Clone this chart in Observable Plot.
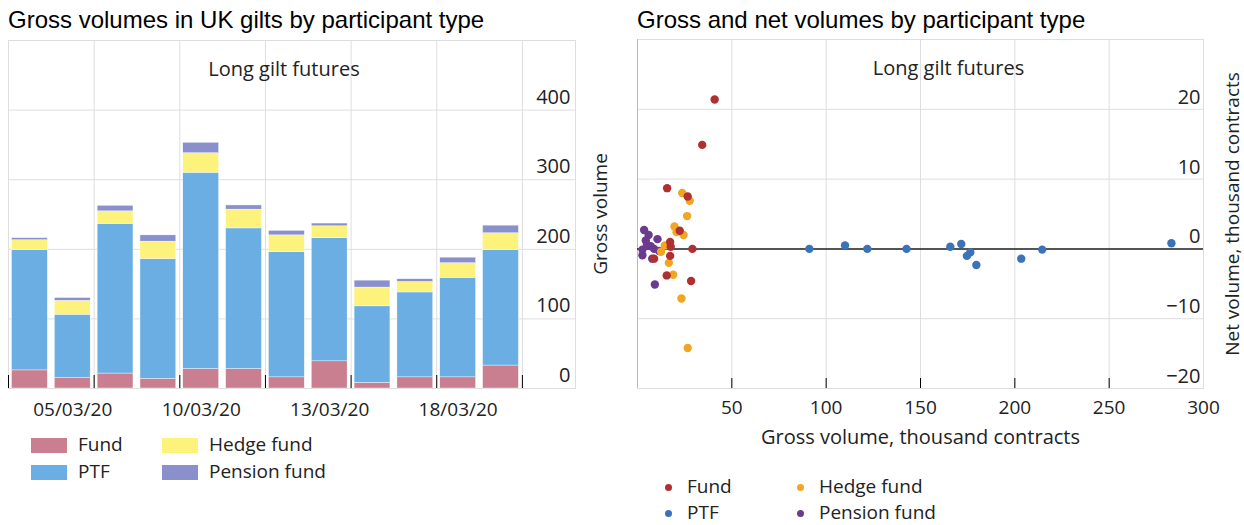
<!DOCTYPE html>
<html><head><meta charset="utf-8">
<script src="https://cdn.jsdelivr.net/npm/d3@7"></script>
<script src="https://cdn.jsdelivr.net/npm/@observablehq/plot@0.6"></script>
<style>
body{margin:0;background:#fff;width:1244px;height:525px;overflow:hidden;position:relative;font-family:"Open Sans",sans-serif;}
.abs{position:absolute;}
.title{font-family:"Liberation Sans",Arial,sans-serif;font-size:24px;color:#000;white-space:nowrap;line-height:1;}
.leg{font-size:19px;color:#222;line-height:1;white-space:nowrap;}
.sw{position:absolute;width:36px;height:15px;}
.dot{position:absolute;width:7px;height:7px;border-radius:50%;}
</style></head><body>
<div class="abs title" style="left:8px;top:8px">Gross volumes in UK gilts by participant type</div>
<div class="abs title" style="left:637px;top:8px">Gross and net volumes by participant type</div>
<div id="left" class="abs" style="left:0;top:0"></div>
<div id="right" class="abs" style="left:580px;top:0"></div>
<div id="legL"></div>
<div id="legR"></div>
<script>
// ---- data ----
const types = ["Fund", "PTF", "Hedge fund", "Pension fund"];
const dates = ["04/03/20","05/03/20","06/03/20","09/03/20","10/03/20","11/03/20","12/03/20","13/03/20","16/03/20","17/03/20","18/03/20","19/03/20"];
const labelledDates = ["05/03/20","10/03/20","13/03/20","18/03/20"];
const fundGross    = [26, 15, 21.5, 14, 28, 28, 16, 39, 8, 16, 16, 33];
const ptfGross     = [173, 91, 215, 172, 282, 202, 180, 177, 110, 122, 143, 166];
const hedgeGross   = [14, 20, 18, 25, 28, 27, 24, 17, 27, 15, 21, 24];
const pensionGross = [3, 4, 8, 9, 15, 6, 6.5, 4, 10, 4, 8, 11];
const leftTicks = [0, 100, 200, 300, 400];

// scatter: [gross, net] in thousand contracts
const fundPoints = [[40.9,21.4],[34.3,14.9],[15.7,8.7],[26.6,7.5],[22.4,2.6],[17.3,1.0],[17.6,0.3],[29.1,0.0],[17.3,-1.0],[8.8,-1.4],[15.5,-3.8],[28.4,-4.6]];
const ptfPoints = [[91.1,0],[110,0.5],[121.8,0],[142.6,0],[165.8,0.3],[171.6,0.7],[176.4,-0.5],[174.6,-1.0],[179.6,-2.3],[203.4,-1.4],[214.5,-0.1],[283,0.8]];
const hedgePoints = [[23.7,8.0],[27.7,6.9],[26.3,4.7],[19.6,3.2],[20.7,2.4],[24.4,2.0],[14.5,0.5],[12.5,-0.4],[16.6,-2.0],[18.9,-3.7],[23.3,-7.1],[26.6,-14.2]];
const pensionPoints = [[3.5,2.7],[5.9,2.0],[10.6,1.4],[4.4,1.2],[2.6,-0.1],[8.8,0.0],[2.6,-0.9],[7.0,0.4],[9.2,-5.1],[7.8,-1.4],[5.0,0.6],[11.5,-0.3]];
const rightTicks = [-20, -10, 0, 10, 20];
const xTicks = [50, 100, 150, 200, 250, 300];

const barColors = ["#c97f90", "#6aaee3", "#fdf27b", "#8a90cc"];
const dotColors = ["#b03030", "#3b73b9", "#f0a623", "#6b3b8f"];

const fontFamily = "'Open Sans', sans-serif";

// ---- left chart ----
const grossSeries = [fundGross, ptfGross, hedgeGross, pensionGross];
const rows = dates.flatMap((d, i) => types.map((t, k) => ({i, date: d, type: t, value: grossSeries[k][i]})));
const n = dates.length;
const gridIdx = d3.range(0, n + 1, 2);
const labelIdx = labelledDates.map(d => dates.indexOf(d) + 0.5);

const left = Plot.plot({
  width: 590, height: 430,
  marginLeft: 8, marginRight: 15, marginTop: 40, marginBottom: 42,
  x: {domain: [0, n + 1.24], axis: null},
  y: {domain: [0, 500], axis: null},
  color: {domain: types, range: barColors},
  style: {fontFamily, fontSize: "19px", color: "#222", background: "transparent"},
  marks: [
    Plot.gridX(gridIdx, {stroke: "#dedede", strokeOpacity: 1}),
    Plot.gridY(leftTicks, {stroke: "#dedede", strokeOpacity: 1}),
    Plot.frame({stroke: "#dedede"}),
    Plot.rectY(rows, {x1: "i", x2: d => d.i + 1, y: "value", fill: "type", insetLeft: 3.5, insetRight: 3.5, stroke: "white", strokeWidth: 0.4}),
    Plot.axisX(gridIdx, {tickSize: 13, dy: -13, tickFormat: () => "", stroke: "#000", label: null}),
    Plot.axisX(labelIdx, {tickSize: 0, tickPadding: 14, tickFormat: (d) => dates[Math.floor(d)], fontSize: 19, fill: "#222", label: null}),
    Plot.text(leftTicks, {y: d => d, frameAnchor: "right", textAnchor: "end", dx: -5, dy: -13, text: d => String(d), fontSize: 20, fill: "#222"}),
    Plot.text(["Long gilt futures"], {frameAnchor: "top", textAnchor: "middle", dy: 21, dx: -8, fontSize: 20, fill: "#222"})
  ]
});
document.getElementById("left").appendChild(left);

// ---- right chart ----
const pointSets = [pensionPoints, hedgePoints, fundPoints, ptfPoints];
const pointTypes = ["Pension fund", "Hedge fund", "Fund", "PTF"];
const pts = pointSets.flatMap((s, k) => s.map(([g, v]) => ({type: pointTypes[k], gross: g, net: v})));
const fmt = d => d < 0 ? "\u2212" + Math.abs(d) : String(d);

const right = Plot.plot({
  width: 664, height: 460,
  marginLeft: 57, marginRight: 41, marginTop: 39, marginBottom: 72,
  x: {domain: [0, 300], axis: null},
  y: {domain: [-20, 30], axis: null},
  color: {domain: types, range: dotColors},
  style: {fontFamily, fontSize: "19px", color: "#222", background: "transparent"},
  marks: [
    Plot.gridX(xTicks, {stroke: "#dedede", strokeOpacity: 1}),
    Plot.gridY(rightTicks, {stroke: "#dedede", strokeOpacity: 1}),
    Plot.frame({stroke: "#dedede"}),
    Plot.ruleX([0], {stroke: "#bbb"}),
    Plot.ruleY([0], {stroke: "#222", strokeWidth: 1.5}),
    Plot.axisX(xTicks.slice(0, -1), {tickSize: 10, dy: -10, tickFormat: () => "", stroke: "#000", label: null}),
    Plot.axisX(xTicks, {tickSize: 0, tickPadding: 12, tickFormat: d => String(d), fontSize: 19, fill: "#222", label: null}),
    Plot.dot(pts, {x: "gross", y: "net", fill: "type", r: 4.2}),
    Plot.text(rightTicks, {y: d => d, frameAnchor: "right", textAnchor: "end", dx: -3, dy: -12, text: fmt, fontSize: 20, fill: "#222"}),
    Plot.text(["Long gilt futures"], {frameAnchor: "top", textAnchor: "middle", dy: 21, dx: 28, fontSize: 20, fill: "#222"}),
    Plot.text(["Gross volume"], {frameAnchor: "left", textAnchor: "middle", rotate: -90, dx: -37, fontSize: 19, fill: "#222"}),
    Plot.text(["Net volume, thousand contracts"], {frameAnchor: "right", textAnchor: "middle", rotate: -90, dx: 29, fontSize: 19, fill: "#222"}),
    Plot.text(["Gross volume, thousand contracts"], {frameAnchor: "bottom", textAnchor: "middle", dy: 55, fontSize: 20, fill: "#222"})
  ]
});
document.getElementById("right").appendChild(right);

// ---- legends ----
const legL = document.getElementById("legL");
const legLPos = [[31, 438], [31, 465], [162, 438], [162, 465]];
types.forEach((t, k) => {
  const [x, y] = legLPos[k];
  legL.insertAdjacentHTML("beforeend",
    `<div class="sw" style="left:${x}px;top:${y}px;background:${barColors[k]}"></div>` +
    `<div class="abs leg" style="left:${x + 47}px;top:${y - 3}px">${t}</div>`);
});
const legR = document.getElementById("legR");
const legRPos = [[665, 484], [665, 510], [797, 484], [797, 510]];
types.forEach((t, k) => {
  const [x, y] = legRPos[k];
  legR.insertAdjacentHTML("beforeend",
    `<div class="dot" style="left:${x}px;top:${y}px;background:${dotColors[k]}"></div>` +
    `<div class="abs leg" style="left:${x + 22}px;top:${y - 7}px">${t}</div>`);
});
</script>
</body></html>
